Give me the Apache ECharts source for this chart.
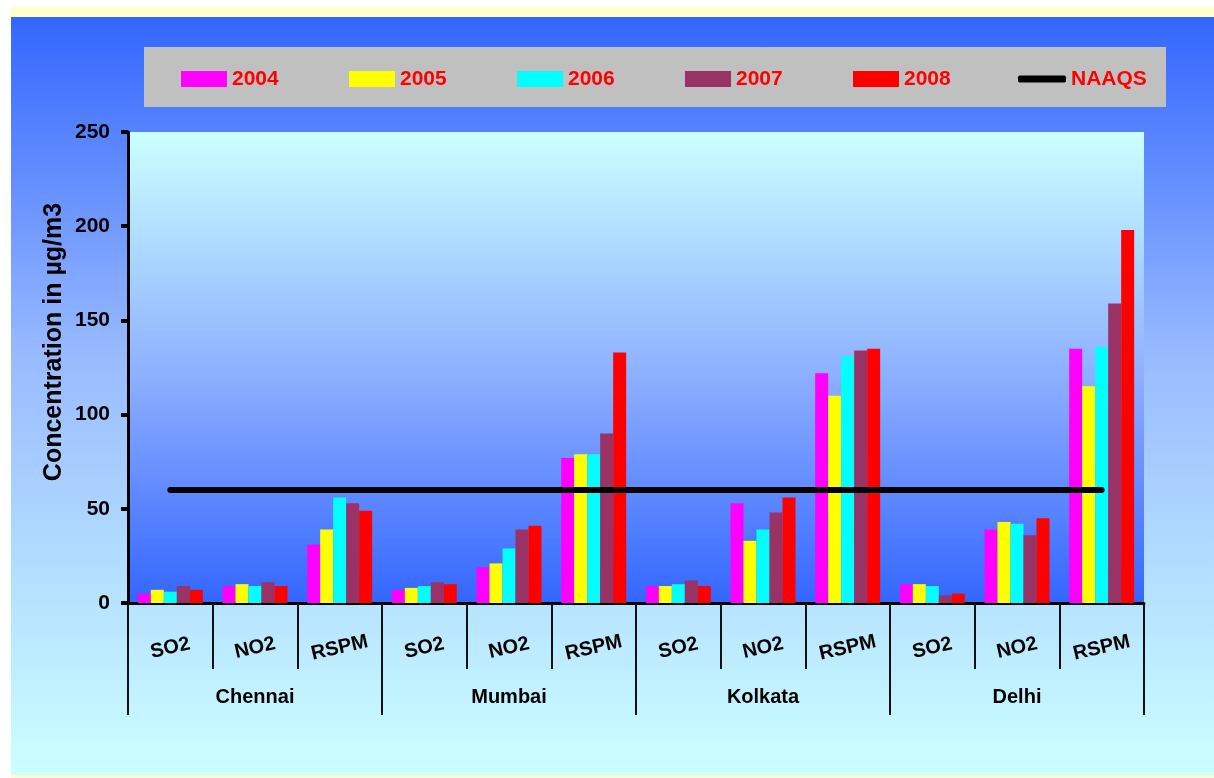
<!DOCTYPE html>
<html>
<head>
<meta charset="utf-8">
<script src="https://cdn.jsdelivr.net/npm/echarts@6/dist/echarts.min.js"></script>
<style>
  html, body { margin: 0; padding: 0; background: #ffffff; }
  #page { position: relative; width: 1214px; height: 778px; background: #ffffff; overflow: hidden; }
  .strip { position: absolute; left: 11px; width: 1203px; background: #FFFFCC; }
  #outer { position: absolute; left: 11px; top: 17px; width: 1203px; height: 758px;
           background: linear-gradient(to bottom, #3366FF 0%, #99BBFF 45%, #CCFFFF 100%); }
  #chart { position: absolute; left: 0; top: 0; width: 1214px; height: 778px; }
</style>
</head>
<body>
<div id="page">
  <div class="strip" style="top:7px;height:10px"></div>
  <div id="outer"></div>
  <div class="strip" style="top:775px;height:3px"></div>
  <div id="chart"></div>
</div>
<script>
// data
const cities = ['Chennai', 'Mumbai', 'Kolkata', 'Delhi'];
const categories = ['SO2', 'NO2', 'RSPM', 'SO2', 'NO2', 'RSPM', 'SO2', 'NO2', 'RSPM', 'SO2', 'NO2', 'RSPM'];
const years = ['2004', '2005', '2006', '2007', '2008'];
const v2004 = [5, 9, 31, 7, 19, 77, 9, 53, 122, 10, 39, 135];
const v2005 = [7, 10, 39, 8, 21, 79, 9, 33, 110, 10, 43, 115];
const v2006 = [6, 9, 56, 9, 29, 79, 10, 39, 131, 9, 42, 136];
const v2007 = [9, 11, 53, 11, 39, 90, 12, 48, 134, 4, 36, 159];
const v2008 = [7, 9, 49, 10, 41, 133, 9, 56, 135, 5, 45, 198];
const naaqs = [60, 60, 60, 60, 60, 60, 60, 60, 60, 60, 60, 60];
const yTicks = [0, 50, 100, 150, 200, 250];

const colors = ['#FF00FF', '#FFFF00', '#00FFFF', '#993366', '#FF0000'];
const font = "'Liberation Sans', Arial, sans-serif";

const chart = echarts.init(document.getElementById('chart'));

const barSeries = [v2004, v2005, v2006, v2007, v2008].map(function (vals, i) {
  return {
    name: years[i],
    type: 'bar',
    data: vals,
    barWidth: 13,
    barGap: '0%',
    itemStyle: { color: colors[i] }
  };
});

// one legend per item so the spacing matches the box
const legendLefts = [181, 349, 517, 685, 853, 1018];
const legends = years.concat(['NAAQS']).map(function (name, i) {
  const isLine = name === 'NAAQS';
  const item = isLine
    ? { name: name, icon: 'roundRect', itemStyle: { color: '#000000' } }
    : { name: name, icon: 'rect', itemStyle: { color: colors[i] } };
  return {
    data: [item],
    left: legendLefts[i],
    top: 66,
    padding: 0,
    itemWidth: isLine ? 48 : 46,
    itemHeight: isLine ? 7 : 16,
    itemGap: 0,
    selectedMode: false,
    textStyle: { color: '#FF0000', fontWeight: 'bold', fontSize: 21, fontFamily: font,
                 lineHeight: 26 }
  };
});

chart.setOption({
  animation: false,
  textStyle: { fontFamily: font },
  graphic: [
    { type: 'rect', z: -1, shape: { x: 144, y: 47, width: 1022, height: 60 },
      style: { fill: '#C0C0C0' } },
    { type: 'text', x: 54, y: 342, rotation: Math.PI / 2,
      style: { text: 'Concentration in µg/m3', fill: '#000', fontSize: 25, fontWeight: 'bold',
               fontFamily: font, align: 'center', verticalAlign: 'middle' } }
  ],
  legend: legends,
  grid: {
    left: 128, right: 70, top: 132, bottom: 175,
    show: true, borderWidth: 0,
    backgroundColor: new echarts.graphic.LinearGradient(0, 0, 0, 1, [
      { offset: 0, color: '#CCFFFF' },
      { offset: 0.55, color: '#88AAFF' },
      { offset: 1, color: '#3366FF' }
    ])
  },
  xAxis: [
    {
      type: 'category',
      data: categories,
      axisLine: { lineStyle: { color: '#000', width: 3 } },
      axisTick: { show: true, interval: 0, length: 66, lineStyle: { color: '#111', width: 2 } },
      axisLabel: {
        interval: 0, rotate: 13, margin: 45, align: 'center', verticalAlign: 'middle',
        color: '#000', fontWeight: 'bold', fontSize: 20, fontFamily: font
      }
    },
    {
      type: 'category',
      data: cities,
      position: 'bottom',
      axisLine: { show: false },
      axisTick: { show: true, interval: 0, length: 112, lineStyle: { color: '#111', width: 2 } },
      axisLabel: {
        interval: 0, margin: 94, verticalAlign: 'middle',
        color: '#000', fontWeight: 'bold', fontSize: 20, fontFamily: font
      }
    }
  ],
  yAxis: {
    type: 'value',
    min: yTicks[0],
    max: yTicks[yTicks.length - 1],
    interval: 50,
    axisLine: { show: true, lineStyle: { color: '#000', width: 3 } },
    axisTick: { show: true, length: 7, lineStyle: { color: '#000', width: 4 } },
    splitLine: { show: false },
    axisLabel: { margin: 18, color: '#000', fontWeight: 'bold', fontSize: 21, fontFamily: font }
  },
  series: barSeries.concat([{
    name: 'NAAQS',
    type: 'line',
    data: naaqs,
    symbol: 'none',
    z: 5,
    lineStyle: { color: '#000000', width: 6, cap: 'round' },
    itemStyle: { color: '#000000' }
  }])
});
</script>
</body>
</html>
